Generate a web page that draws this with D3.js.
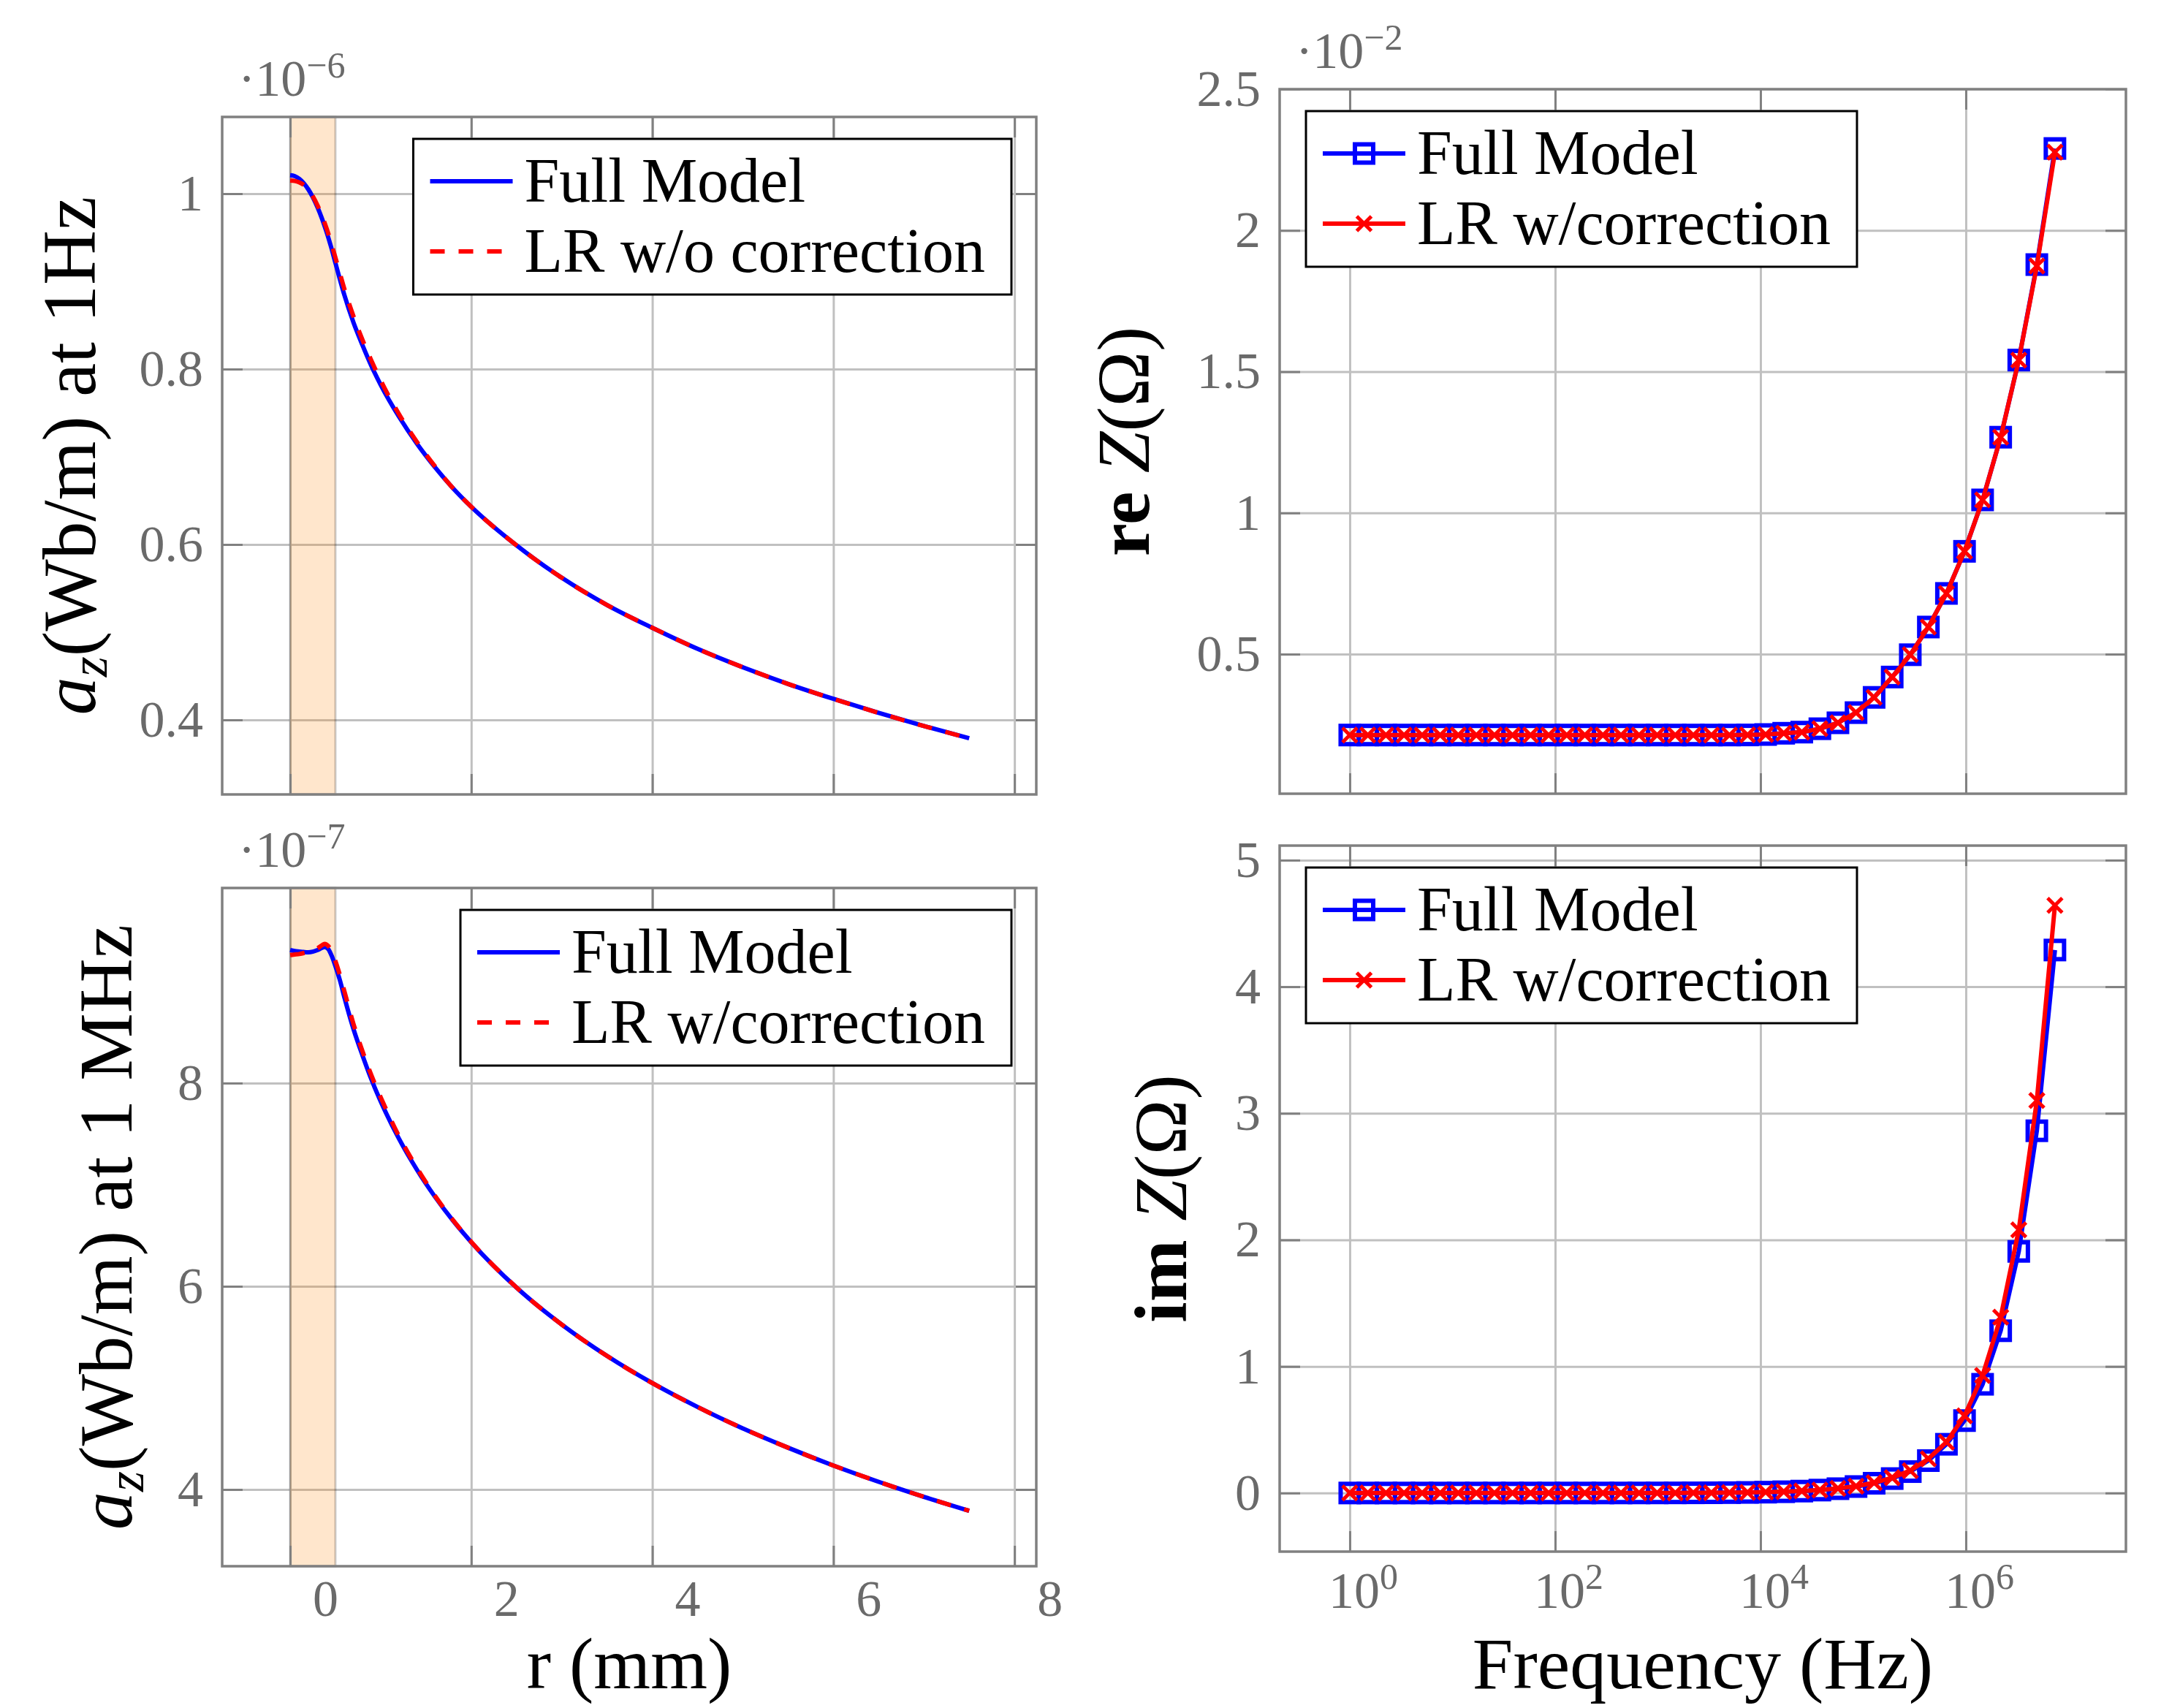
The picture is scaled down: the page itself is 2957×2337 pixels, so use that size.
<!DOCTYPE html>
<html><head><meta charset="utf-8">
<script src="https://cdn.jsdelivr.net/npm/d3@7"></script>
<style>
body{margin:0;background:#fff}
svg{display:block;background:#fff}
text{font-family:"Liberation Serif","Times New Roman",serif}
</style>
</head><body>
<svg id="c" width="2957" height="2337"></svg>
<script>
// ---------------- data ----------------
const rTop = [0,0.05,0.1,0.15,0.2,0.25,0.3,0.35,0.4,0.45,0.5,0.55,0.6,0.7,0.8,0.9,1.0,1.2,1.4,1.6,1.8,2.0,2.5,3.0,3.5,4.0,4.5,5.0,5.5,6.0,6.5,7.0,7.5];
const azFullTop = [1.021,1.020,1.017,1.012,1.005,0.996,0.985,0.972,0.957,0.940,0.921,0.902,0.884,0.853,0.827,0.803,0.782,0.746,0.715,0.688,0.664,0.643,0.599,0.562,0.531,0.505,0.481,0.460,0.441,0.424,0.408,0.393,0.379];
const azLRTop = [1.015,1.0145,1.013,1.010,1.005,0.997,0.987,0.975,0.961,0.945,0.927,0.909,0.891,0.860,0.833,0.809,0.787,0.749,0.717,0.689,0.664,0.643,0.599,0.562,0.531,0.505,0.481,0.460,0.441,0.424,0.408,0.393,0.379];

const rBot = [0,0.05,0.1,0.15,0.2,0.25,0.3,0.35,0.38,0.42,0.46,0.5,0.55,0.6,0.7,0.8,0.9,1.0,1.2,1.4,1.6,1.8,2.0,2.5,3.0,3.5,4.0,4.5,5.0,5.5,6.0,6.5,7.0,7.5];
const azFullBot = [9.31,9.30,9.295,9.29,9.287,9.293,9.308,9.33,9.34,9.32,9.25,9.15,9.01,8.84,8.53,8.27,8.03,7.82,7.455,7.147,6.88,6.644,6.434,5.987,5.623,5.314,5.047,4.812,4.601,4.411,4.236,4.076,3.928,3.79];
const azLRBot = [9.26,9.265,9.27,9.28,9.29,9.305,9.325,9.355,9.37,9.35,9.29,9.20,9.06,8.90,8.58,8.31,8.07,7.86,7.48,7.165,6.89,6.65,6.437,5.988,5.623,5.314,5.047,4.812,4.601,4.411,4.236,4.076,3.928,3.79];

const freq = [1,1.5,2.25,3.375,5.0625,7.594,11.39,17.09,25.63,38.44,57.67,86.50,129.7,194.6,291.9,437.9,656.8,985.3,1478,2217,3325,4988,7482,11223,16834,25251,37877,56815,85223,127834,191751,287627,431440,647160,970740,1456110,2184164,3276247,4914370,7371555];
const reFull = [0.2137,0.2137,0.2137,0.2137,0.2137,0.2137,0.2137,0.2137,0.2137,0.2137,0.2137,0.2137,0.2137,0.2137,0.2137,0.2137,0.2137,0.2137,0.2137,0.2137,0.2137,0.2137,0.214,0.2155,0.220,0.224,0.236,0.257,0.293,0.347,0.419,0.498,0.596,0.715,0.864,1.046,1.268,1.541,1.879,2.290];
const reLR = [0.2137,0.2137,0.2137,0.2137,0.2137,0.2137,0.2137,0.2137,0.2137,0.2137,0.2137,0.2137,0.2137,0.2137,0.2137,0.2137,0.2137,0.2137,0.2137,0.2137,0.2137,0.2137,0.214,0.2155,0.220,0.224,0.236,0.257,0.293,0.347,0.419,0.498,0.596,0.715,0.864,1.046,1.268,1.541,1.874,2.277];
const imFull = [0,0,0,0,0,0,0,0,0,0,0.0001,0.0001,0.0001,0.0001,0.0002,0.0003,0.0004,0.0006,0.0009,0.0013,0.0019,0.0029,0.0044,0.0066,0.0099,0.015,0.023,0.034,0.051,0.077,0.114,0.169,0.256,0.385,0.572,0.859,1.282,1.909,2.862,4.290];
const imLR = [0,0,0,0,0,0,0,0,0,0,0.0001,0.0001,0.0001,0.0002,0.0002,0.0003,0.0004,0.0006,0.0009,0.0014,0.0021,0.0031,0.0047,0.0071,0.0106,0.016,0.024,0.036,0.054,0.081,0.121,0.177,0.270,0.402,0.610,0.929,1.389,2.079,3.101,4.643];

const rTicks = [0,2,4,6,8];
const fTicks = [1,1e2,1e4,1e6];
const yTicksTL = [0.4,0.6,0.8,1];
const yTicksBL = [4,6,8];
const yTicksTR = [0.5,1,1.5,2,2.5];
const yTicksBR = [0,1,2,3,4,5];
const conductor = [0,0.5];
const legendTL = ['Full Model','LR w/o correction'];
const legendBL = ['Full Model','LR w/correction'];
const legendR = ['Full Model','LR w/correction'];

// ---------------- style ----------------
const GRID='#c0c0c0', FRAME='#808080', LBL='#6a6a6a';
const BLUE='#0000ff', RED='#ff0000';
const svg = d3.select('#c');

const panels = [
 {id:'tl',L:304,R:1418,T:160,B:1087,log:false,xDom:[-0.751,8.241],yDom:[0.315,1.0875],yTicks:yTicksTL,exp:'−6',
  showX:false,shade:true,curve:d3.curveMonotoneX,
  series:[{x:rTop,y:azFullTop,c:BLUE},{x:rTop,y:azLRTop,c:RED,dash:true}],
  legend:legendTL,legAnchor:'right',ytX:130,ytSize:104,
  ytitle:t=>{t.append('tspan').attr('font-style','italic').text('a');
    t.append('tspan').attr('font-style','italic').attr('font-size',72).attr('dy',16).text('z');
    t.append('tspan').attr('dy',-16).text('(Wb/m) at 1Hz');}},
 {id:'bl',L:304,R:1418,T:1215,B:2143,log:false,xDom:[-0.751,8.241],yDom:[3.245,9.92],yTicks:yTicksBL,exp:'−7',
  showX:true,shade:true,curve:d3.curveMonotoneX,xtitle:'r (mm)',
  series:[{x:rBot,y:azFullBot,c:BLUE},{x:rBot,y:azLRBot,c:RED,dash:true}],
  legend:legendBL,legAnchor:'right',ytX:180,ytSize:104,
  ytitle:t=>{t.append('tspan').attr('font-style','italic').text('a');
    t.append('tspan').attr('font-style','italic').attr('font-size',72).attr('dy',16).text('z');
    t.append('tspan').attr('dy',-16).text('(Wb/m) at 1 MHz');}},
 {id:'tr',L:1751,R:2909,T:122,B:1086,log:true,xDom:[Math.pow(10,-0.683),Math.pow(10,7.559)],yDom:[0.006,2.5],yTicks:yTicksTR,exp:'−2',
  showX:false,shade:false,curve:d3.curveLinear,
  series:[{x:freq,y:reFull,c:BLUE,mark:'square'},{x:freq,y:reLR,c:RED,mark:'x'}],
  legend:legendR,legAnchor:'left',ytX:1572,ytSize:102,
  ytitle:t=>{t.append('tspan').attr('font-weight','bold').text('re ');
    t.append('tspan').attr('font-style','italic').text('Z');
    t.append('tspan').text('(Ω)');}},
 {id:'br',L:1751,R:2909,T:1157,B:2123,log:true,xDom:[Math.pow(10,-0.683),Math.pow(10,7.559)],yDom:[-0.463,5.115],yTicks:yTicksBR,exp:null,
  showX:true,shade:false,curve:d3.curveLinear,xtitle:'Frequency (Hz)',
  series:[{x:freq,y:imFull,c:BLUE,mark:'square'},{x:freq,y:imLR,c:RED,mark:'x'}],
  legend:legendR,legAnchor:'left',ytX:1623,ytSize:102,
  ytitle:t=>{t.append('tspan').attr('font-weight','bold').text('im ');
    t.append('tspan').attr('font-style','italic').text('Z');
    t.append('tspan').text('(Ω)');}}
];

function drawPanel(p){
  const g = svg.append('g').attr('id','panel-'+p.id);
  const x = (p.log ? d3.scaleLog() : d3.scaleLinear()).domain(p.xDom).range([p.L,p.R]);
  const y = d3.scaleLinear().domain(p.yDom).range([p.B,p.T]);
  const xt = p.log ? fTicks : rTicks;
  const W = p.R-p.L, H = p.B-p.T;

  // grid
  g.append('g').attr('transform',`translate(0,${p.B})`)
    .call(d3.axisBottom(x).tickValues(xt).tickSize(-H).tickFormat(''))
    .call(s=>{s.select('.domain').remove();s.selectAll('line').attr('stroke',GRID).attr('stroke-width',3);});
  g.append('g').attr('transform',`translate(${p.L},0)`)
    .call(d3.axisLeft(y).tickValues(p.yTicks).tickSize(-W).tickFormat(''))
    .call(s=>{s.select('.domain').remove();s.selectAll('line').attr('stroke',GRID).attr('stroke-width',3);});

  // shaded conductor region
  if(p.shade){
    g.append('rect').attr('x',x(conductor[0])).attr('y',p.T)
      .attr('width',x(conductor[1])-x(conductor[0])).attr('height',H)
      .attr('fill','#ff8000').attr('fill-opacity',0.2)
      .attr('stroke','#000').attr('stroke-opacity',0.2).attr('stroke-width',3);
  }

  // tick marks (inward, all sides)
  const tk = s=>{s.select('.domain').remove();s.selectAll('line').attr('stroke',FRAME).attr('stroke-width',3);};
  g.append('g').attr('transform',`translate(0,${p.B})`).call(d3.axisBottom(x).tickValues(xt).tickSize(-28).tickFormat('')).call(tk);
  g.append('g').attr('transform',`translate(0,${p.T})`).call(d3.axisTop(x).tickValues(xt).tickSize(-28).tickFormat('')).call(tk);
  g.append('g').attr('transform',`translate(${p.L},0)`).call(d3.axisLeft(y).tickValues(p.yTicks).tickSize(-28).tickFormat('')).call(tk);
  g.append('g').attr('transform',`translate(${p.R},0)`).call(d3.axisRight(y).tickValues(p.yTicks).tickSize(-28).tickFormat('')).call(tk);

  // series
  const line = d3.line().x(d=>x(d[0])).y(d=>y(d[1])).curve(p.curve);
  p.series.forEach(s=>{
    const pts = d3.zip(s.x,s.y);
    g.append('path').datum(pts).attr('d',line).attr('fill','none').attr('stroke',s.c)
      .attr('stroke-width',6).attr('stroke-linejoin','round')
      .attr('stroke-dasharray',s.dash?'20,19':null);
    if(s.mark==='square'){
      g.append('g').selectAll('rect').data(pts).join('rect')
        .attr('x',d=>x(d[0])-12.5).attr('y',d=>y(d[1])-12.5).attr('width',25).attr('height',25)
        .attr('fill','none').attr('stroke',s.c).attr('stroke-width',6);
    } else if(s.mark==='x'){
      g.append('g').selectAll('path').data(pts).join('path')
        .attr('transform',d=>`translate(${x(d[0])},${y(d[1])})`)
        .attr('d','M-10,-10L10,10M-10,10L10,-10')
        .attr('fill','none').attr('stroke',s.c).attr('stroke-width',5);
    }
  });

  // frame
  g.append('rect').attr('x',p.L).attr('y',p.T).attr('width',W).attr('height',H)
    .attr('fill','none').attr('stroke',FRAME).attr('stroke-width',3.5);

  // y tick labels
  g.append('g').attr('transform',`translate(${p.L},0)`)
    .call(d3.axisLeft(y).tickValues(p.yTicks).tickSize(0).tickPadding(26).tickFormat(d=>String(d)))
    .call(s=>{s.select('.domain').remove();
      s.selectAll('text').attr('font-size',70).attr('fill',LBL).attr('font-family','"Liberation Serif",serif');});

  // x tick labels
  if(p.showX){
    const ax = g.append('g').attr('transform',`translate(0,${p.B})`)
      .call(d3.axisBottom(x).tickValues(xt).tickSize(0).tickFormat(d=>String(d)));
    ax.select('.domain').remove();
    ax.selectAll('text').attr('font-size',70).attr('fill',LBL).attr('font-family','"Liberation Serif",serif').attr('dy',0);
    if(p.log){
      ax.selectAll('text').attr('y',77).attr('x',18).each(function(d){
        const t=d3.select(this); t.text('');
        t.append('tspan').text('10');
        t.append('tspan').attr('dy',-26).attr('font-size',50).text(Math.round(Math.log10(d)));
      });
    } else {
      ax.selectAll('text').attr('y',68).attr('x',48);
    }
    g.append('text').attr('x',(p.L+p.R)/2).attr('y',2310).attr('text-anchor','middle')
      .attr('font-size',100).attr('fill','#000').text(p.xtitle);
  }

  // exponent label
  if(p.exp){
    const t = g.append('text').attr('x',p.L+22).attr('y',p.T-29).attr('font-size',70).attr('fill',LBL);
    t.append('tspan').text('·10');
    t.append('tspan').attr('dy',-25).attr('font-size',50).text(p.exp);
  }

  // y title
  const yt = g.append('text').attr('transform',`translate(${p.ytX},${(p.T+p.B)/2}) rotate(-90)`)
    .attr('text-anchor','middle').attr('font-size',p.ytSize).attr('fill','#000');
  p.ytitle(yt);

  // legend
  const lg = g.append('g');
  const box = lg.append('rect').attr('fill','#fff').attr('stroke','#000').attr('stroke-width',3);
  const texts = p.legend.map((lab,i)=>lg.append('text').attr('font-size',86).attr('fill','#000').text(lab));
  const tw = d3.max(texts,t=>t.node().getComputedTextLength());
  const bw = 152 + tw + 36, bh = 213;
  const bx = p.legAnchor==='right' ? p.R-34-bw : p.L+36;
  const by = p.T + 30;
  box.attr('x',bx).attr('y',by).attr('width',bw).attr('height',bh);
  p.series.forEach((s,i)=>{
    const ry = by + 58 + i*96;
    texts[i].attr('x',bx+152).attr('y',ry+28);
    lg.append('line').attr('x1',bx+23).attr('x2',bx+23+113).attr('y1',ry).attr('y2',ry)
      .attr('stroke',s.c).attr('stroke-width',6).attr('stroke-dasharray',s.dash?'20,19':null);
    const cx = bx+23+56.5;
    if(s.mark==='square'){
      lg.append('rect').attr('x',cx-12.5).attr('y',ry-12.5).attr('width',25).attr('height',25)
        .attr('fill','none').attr('stroke',s.c).attr('stroke-width',6);
    } else if(s.mark==='x'){
      lg.append('path').attr('transform',`translate(${cx},${ry})`).attr('d','M-10,-10L10,10M-10,10L10,-10')
        .attr('fill','none').attr('stroke',s.c).attr('stroke-width',5);
    }
  });
}

panels.forEach(drawPanel);
</script>
</body></html>
